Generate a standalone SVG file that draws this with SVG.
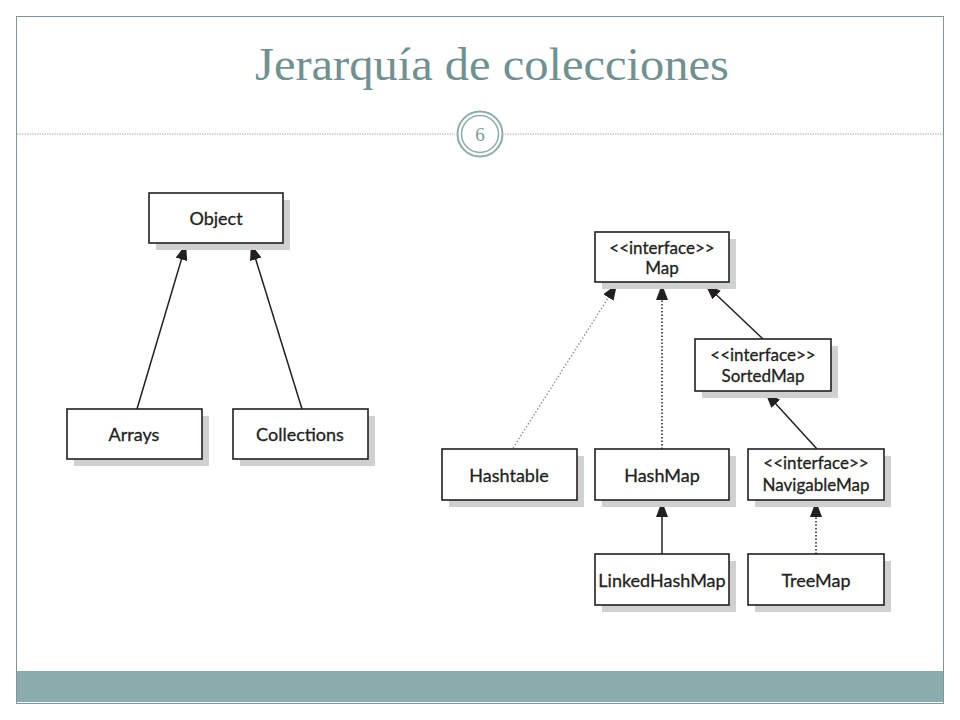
<svg xmlns="http://www.w3.org/2000/svg" width="960" height="720" viewBox="0 0 960 720">
<defs>
<style>
.box{fill:#ffffff;stroke:#231f20;stroke-width:1.6}
.sh{fill:#cfd1d1}
.t{font-family:Lato,"Open Sans","Liberation Sans",sans-serif;font-size:18px;fill:#231f20;stroke:#231f20;stroke-width:0.3;text-anchor:middle}
.t2{font-family:Lato,"Open Sans","Liberation Sans",sans-serif;font-size:17px;fill:#231f20;stroke:#231f20;stroke-width:0.3;text-anchor:middle}
.ln{stroke:#231f20;stroke-width:1.5;fill:none}
.dot{stroke:#231f20;stroke-width:1.5;fill:none;stroke-dasharray:1.5 2}
.dotl{stroke:#8a8a8a;stroke-width:1.3;fill:none;stroke-dasharray:1.5 2}
</style>
<marker id="ah" viewBox="0 0 16 12" refX="16" refY="6" markerWidth="16" markerHeight="12" markerUnits="userSpaceOnUse" orient="auto">
<path d="M0,0 L16,6 L0,12 z" fill="#231f20"/>
</marker>
</defs>
<rect x="0" y="0" width="960" height="720" fill="#ffffff"/>
<rect x="16.5" y="16.5" width="927" height="687" fill="#ffffff" stroke="#7d9898" stroke-width="1"/>
<rect x="17" y="671" width="926" height="31" fill="#8aacac"/>
<text x="492" y="80" font-family="'Liberation Serif',serif" font-size="46" fill="#6f9191" text-anchor="middle" textLength="474" lengthAdjust="spacingAndGlyphs">Jerarquía de colecciones</text>
<line x1="17" y1="134" x2="455" y2="134" stroke="#9fb0b0" stroke-width="1" stroke-dasharray="1.5 1"/>
<line x1="505" y1="134" x2="943" y2="134" stroke="#9fb0b0" stroke-width="1" stroke-dasharray="1.5 1"/>
<circle cx="480" cy="134" r="22.5" fill="#ffffff" stroke="#8aacac" stroke-width="2"/>
<circle cx="480" cy="134" r="18.5" fill="none" stroke="#8aacac" stroke-width="1.5"/>
<text x="480" y="141" font-family="'Liberation Serif',serif" font-size="19" fill="#7a9a9a" text-anchor="middle">6</text>

<g id="connectors">
<line class="ln" x1="137" y1="409" x2="186" y2="244" marker-end="url(#ah)"/>
<line class="ln" x1="302" y1="409" x2="251" y2="244" marker-end="url(#ah)"/>
<line class="dotl" x1="513" y1="448" x2="617" y2="284" marker-end="url(#ah)"/>
<line class="dot" x1="662" y1="449" x2="662" y2="284" marker-end="url(#ah)"/>
<line class="ln" x1="763" y1="339" x2="705" y2="284" marker-end="url(#ah)"/>
<line class="ln" x1="817" y1="449" x2="765" y2="392" marker-end="url(#ah)"/>
<line class="ln" x1="662" y1="554" x2="662" y2="501" marker-end="url(#ah)"/>
<line class="dot" x1="816" y1="554" x2="816" y2="501" marker-end="url(#ah)"/>
</g>

<g id="object"><rect class="sh" x="156" y="200" width="134" height="50"/><rect class="box" x="149" y="193" width="134" height="50"/><text class="t" x="216" y="225">Object</text></g>
<g id="arrays"><rect class="sh" x="74" y="416" width="135" height="50"/><rect class="box" x="67" y="409" width="135" height="50"/><text class="t" x="134" y="441">Arrays</text></g>
<g id="collections"><rect class="sh" x="240" y="416" width="135" height="50"/><rect class="box" x="233" y="409" width="135" height="50"/><text class="t" x="300" y="441">Collections</text></g>
<g id="map"><rect class="sh" x="602" y="239" width="134" height="50"/><rect class="box" x="595" y="232" width="134" height="50"/><text class="t2" x="662" y="254">&lt;&lt;interface&gt;&gt;</text><text class="t2" x="662" y="274">Map</text></g>
<g id="sortedmap"><rect class="sh" x="702" y="346" width="136" height="52"/><rect class="box" x="695" y="339" width="136" height="52"/><text class="t2" x="763" y="361">&lt;&lt;interface&gt;&gt;</text><text class="t2" x="763" y="382">SortedMap</text></g>
<g id="hashtable"><rect class="sh" x="449" y="456" width="135" height="51"/><rect class="box" x="442" y="449" width="135" height="51"/><text class="t" x="509" y="482">Hashtable</text></g>
<g id="hashmap"><rect class="sh" x="602" y="456" width="134" height="51"/><rect class="box" x="595" y="449" width="134" height="51"/><text class="t" x="662" y="482">HashMap</text></g>
<g id="navigablemap"><rect class="sh" x="755" y="456" width="136" height="51"/><rect class="box" x="748" y="449" width="136" height="51"/><text class="t2" x="816" y="469">&lt;&lt;interface&gt;&gt;</text><text class="t2" x="816" y="491">NavigableMap</text></g>
<g id="linkedhashmap"><rect class="sh" x="602" y="561" width="134" height="51"/><rect class="box" x="595" y="554" width="134" height="51"/><text class="t" x="662" y="587">LinkedHashMap</text></g>
<g id="treemap"><rect class="sh" x="755" y="561" width="136" height="51"/><rect class="box" x="748" y="554" width="136" height="51"/><text class="t" x="816" y="587">TreeMap</text></g>
</svg>
